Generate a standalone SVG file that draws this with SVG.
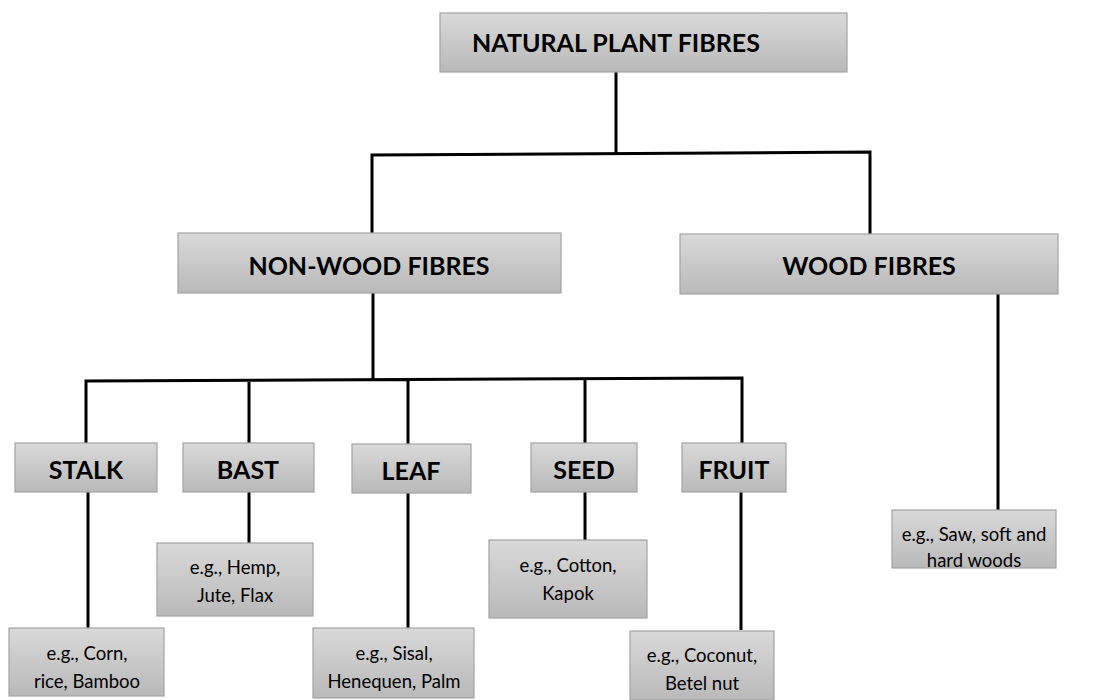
<svg xmlns="http://www.w3.org/2000/svg" width="1098" height="700" viewBox="0 0 1098 700">
<defs>
<linearGradient id="g" x1="0" y1="0" x2="0" y2="1">
<stop offset="0" stop-color="#d9d9d9"/>
<stop offset="1" stop-color="#b9b9b9"/>
</linearGradient>
</defs>
<style>
rect{fill:url(#g);stroke:#a3a3a3;stroke-width:1.2}
.h{font-family:Lato,"Liberation Sans",sans-serif;font-weight:bold;font-size:25px;text-anchor:middle;fill:#000}
.e{font-family:Lato,"Liberation Sans",sans-serif;font-size:18.5px;text-anchor:middle;fill:#000}
#connectors path{fill:none;stroke:#000;stroke-width:3}
</style>
<rect x="0" y="0" width="1098" height="700" style="fill:#fff;stroke:none"/>
<g id="connectors">
<path d="M616 72V154M372 235V155L870 152V235"/>
<path d="M373 293V380M86 444V381L742 378V444M249 380V444M408 380V445M585 379V444"/>
<path d="M88 492V628M249 492V543M408 493V628M585 492V540M741 492V630M998 294V510"/>
</g>
<g id="n-root"><rect x="440" y="13" width="407" height="59"/><text class="h" x="616" y="52">NATURAL PLANT FIBRES</text></g>
<g id="n-nonwood"><rect x="178" y="233" width="383" height="60"/><text class="h" x="369" y="275">NON-WOOD FIBRES</text></g>
<g id="n-wood"><rect x="680" y="234" width="378" height="60"/><text class="h" x="869" y="275">WOOD FIBRES</text></g>
<g id="n-stalk"><rect x="15" y="443" width="142" height="49"/><text class="h" x="86" y="479">STALK</text></g>
<g id="n-bast"><rect x="183" y="443" width="131" height="49"/><text class="h" x="248" y="479">BAST</text></g>
<g id="n-leaf"><rect x="352" y="444" width="119" height="49"/><text class="h" x="411" y="480">LEAF</text></g>
<g id="n-seed"><rect x="531" y="443" width="106" height="49"/><text class="h" x="584" y="479">SEED</text></g>
<g id="n-fruit"><rect x="682" y="443" width="104" height="49"/><text class="h" x="734" y="479">FRUIT</text></g>
<g id="n-ex-stalk"><rect x="9" y="628" width="155" height="68"/><text class="e" x="87" y="660">e.g., Corn,</text><text class="e" x="87" y="688">rice, Bamboo</text></g>
<g id="n-ex-bast"><rect x="157" y="543" width="156" height="73"/><text class="e" x="235" y="574">e.g., Hemp,</text><text class="e" x="235" y="602">Jute, Flax</text></g>
<g id="n-ex-leaf"><rect x="313" y="628" width="161" height="70"/><text class="e" x="394" y="660">e.g., Sisal,</text><text class="e" x="394" y="688">Henequen, Palm</text></g>
<g id="n-ex-seed"><rect x="489" y="540" width="158" height="78"/><text class="e" x="568" y="572">e.g., Cotton,</text><text class="e" x="568" y="600">Kapok</text></g>
<g id="n-ex-fruit"><rect x="630" y="631" width="144" height="69"/><text class="e" x="702" y="662">e.g., Coconut,</text><text class="e" x="702" y="690">Betel nut</text></g>
<g id="n-ex-wood"><rect x="892" y="510" width="164" height="58"/><text class="e" x="974" y="541">e.g., Saw, soft and</text><text class="e" x="974" y="567">hard woods</text></g>
</svg>
